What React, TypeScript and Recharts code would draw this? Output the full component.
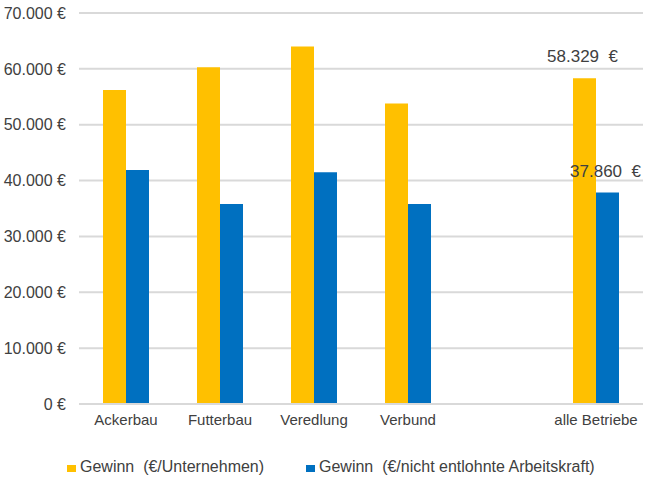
import React from 'react';
import { BarChart, Bar, XAxis, YAxis, CartesianGrid, Legend, LabelList } from 'recharts';

const categories = ['Ackerbau', 'Futterbau', 'Veredlung', 'Verbund', '', 'alle Betriebe'];
const gewinnUnternehmen = [56200, 60300, 64000, 53800, null, 58329];
const gewinnArbeitskraft = [41900, 35800, 41500, 35800, null, 37860];
const yTicks = [0, 10000, 20000, 30000, 40000, 50000, 60000, 70000];

const SERIES = [
  { key: 'u', name: 'Gewinn  (€/Unternehmen)', color: '#FFC000' },
  { key: 'ak', name: 'Gewinn  (€/nicht entlohnte Arbeitskraft)', color: '#0070C0' },
];

const FONT = '"Liberation Sans", Arial, sans-serif';
const TEXT = '#404040';
const last = categories.length - 1;

const data = categories.map((name, i) => ({
  name,
  u: gewinnUnternehmen[i],
  ak: gewinnArbeitskraft[i],
  // value labels only on the "alle Betriebe" bars
  uLabel: i === last ? gewinnUnternehmen[i] : null,
  akLabel: i === last ? gewinnArbeitskraft[i] : null,
}));

const fmt = (v: number) => String(Math.round(v)).replace(/\B(?=(\d{3})+(?!\d))/g, '.');

const valueLabel = (props: any) => {
  const { value } = props;
  if (value == null) return null;
  const vb = props.viewBox && props.viewBox.width != null ? props.viewBox : props;
  const { x, y, width } = vb;
  return (
    <text
      x={x + width / 2 - 2}
      y={y - 16}
      textAnchor="middle"
      fontSize={17}
      fill={TEXT}
      style={{ whiteSpace: 'pre', fontFamily: FONT }}
    >
      {`${fmt(value)}  €`}
    </text>
  );
};

const renderLegend = () => (
  <div style={{ position: 'relative', width: 649, height: 45, fontFamily: FONT, fontSize: 16, color: TEXT }}>
    <span style={{ position: 'absolute', left: 67, top: 31, width: 9, height: 7, background: SERIES[0].color }} />
    <span style={{ position: 'absolute', left: 80, top: 24, whiteSpace: 'pre' }}>{SERIES[0].name}</span>
    <span style={{ position: 'absolute', left: 306, top: 31, width: 9, height: 7, background: SERIES[1].color }} />
    <span style={{ position: 'absolute', left: 319, top: 24, whiteSpace: 'pre' }}>{SERIES[1].name}</span>
  </div>
);

export default function App() {
  return (
    <div style={{ position: 'absolute', left: 0, top: 0, width: 649, height: 479, background: '#fff' }}>
      <BarChart
        width={649}
        height={479}
        data={data}
        margin={{ top: 13, right: 6, left: 0, bottom: 0 }}
        barSize={23}
        barGap={0}
        style={{ fontFamily: FONT }}
      >
        <CartesianGrid vertical={false} stroke="#d9d9d9" strokeWidth={2} />
        <XAxis
          dataKey="name"
          interval={0}
          height={30}
          tickLine={false}
          axisLine={{ stroke: '#d9d9d9', strokeWidth: 2 }}
          tick={{ fontSize: 15, fill: TEXT }}
          tickMargin={4}
        />
        <YAxis
          width={79}
          domain={[0, 70000]}
          ticks={yTicks}
          interval={0}
          axisLine={false}
          tickLine={false}
          tickMargin={7}
          tick={{ fontSize: 16, fill: TEXT }}
          tickFormatter={(v: number) => `${fmt(v)} €`}
        />
        <Legend verticalAlign="bottom" height={45} content={renderLegend} />
        <Bar dataKey="u" name={SERIES[0].name} fill={SERIES[0].color} isAnimationActive={false}>
          <LabelList dataKey="uLabel" content={valueLabel} />
        </Bar>
        <Bar dataKey="ak" name={SERIES[1].name} fill={SERIES[1].color} isAnimationActive={false}>
          <LabelList dataKey="akLabel" content={valueLabel} />
        </Bar>
      </BarChart>
    </div>
  );
}
